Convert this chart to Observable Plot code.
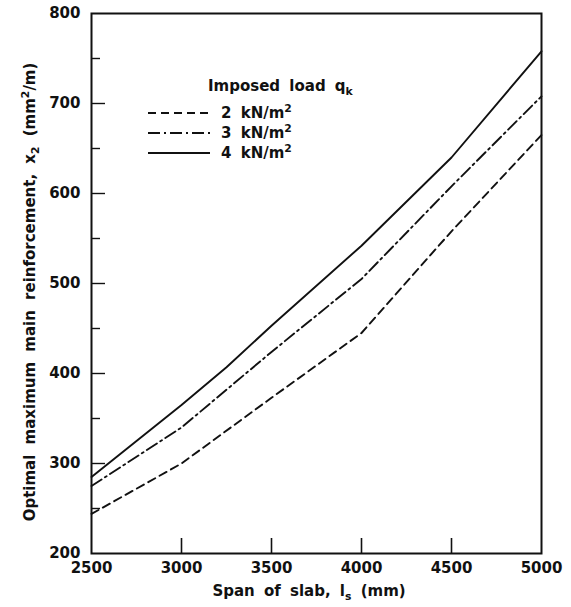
<!DOCTYPE html>
<html><head><meta charset="utf-8">
<script src="https://cdn.jsdelivr.net/npm/d3@7"></script>
<script src="https://cdn.jsdelivr.net/npm/@observablehq/plot@0.6"></script>
<style>
body{margin:0;background:#fff}
#chart svg{font-family:"DejaVu Sans",sans-serif}
</style>
</head><body><div id="chart"></div>
<script>
// Data
const span2 = [2500, 3000, 3500, 4000, 4500, 5000];
const reinf2 = [244, 300, 373, 445, 558, 665];
const span3 = [2500, 3000, 3500, 4000, 4500, 5000];
const reinf3 = [275, 340, 424, 505, 608, 708];
const span4 = [2500, 3000, 3250, 3500, 4000, 4500, 5000];
const reinf4 = [285, 365, 407, 453, 542, 640, 758];
const xTicks = [2500, 3000, 3500, 4000, 4500, 5000];
const yTicks = [200, 300, 400, 500, 600, 700, 800];
const yMinor = [250, 350, 450, 550, 650, 750];
const loadLabels = ["2", "3", "4"];

const dashes = {"2": "8,5", "3": "12,4,2,4", "4": null};
const series = [
  {load: "2", xs: span2, ys: reinf2},
  {load: "3", xs: span3, ys: reinf3},
  {load: "4", xs: span4, ys: reinf4}
];

const fs = 15;
const chart = Plot.plot({
  width: 571, height: 607,
  marginLeft: 91, marginRight: 30, marginTop: 13, marginBottom: 54,
  style: {fontFamily: "DejaVu Sans", fontSize: fs + "px", color: "#111", background: "#fff"},
  x: {domain: [2500, 5000]},
  y: {domain: [200, 800]},
  marks: [
    Plot.axisX(xTicks, {tickSize: 0, tickPadding: 9, label: null, fontSize: fs, fontWeight: "bold", tickFormat: d3.format("d")}),
    Plot.axisX(xTicks.slice(1, -1), {tickSize: -15, text: null, label: null, strokeWidth: 1.6}),
    Plot.axisY(yTicks, {tickSize: 0, tickPadding: 11, label: null, fontSize: fs, fontWeight: "bold", tickFormat: d3.format("d")}),
    Plot.axisY(yTicks.slice(1, -1), {tickSize: -14, text: null, label: null, strokeWidth: 1.4}),
    Plot.axisY(yMinor, {tickSize: -9, text: null, label: null, strokeWidth: 1.4}),
    Plot.frame({stroke: "#111", strokeWidth: 2}),
    ...series.map(s => Plot.line(s.xs.map((x, i) => ({x, y: s.ys[i]})), {
      x: "x", y: "y", stroke: "#111", strokeWidth: 1.9,
      strokeDasharray: dashes[s.load]
    }))
  ]
});
document.getElementById("chart").append(chart);

// Axis titles and legend (with sub/superscripts)
const svg = d3.select(chart);
function rich(g, parts) {
  parts.forEach(p => {
    const t = g.append("tspan").text(p.t);
    if (p.sub) t.attr("font-size", fs * 0.72).attr("dy", 4);
    if (p.sup) t.attr("font-size", fs * 0.72).attr("dy", -6);
    if (p.back) t.attr("dy", p.back);
  });
}
const xl = svg.append("text").attr("x", 309).attr("y", 596).attr("text-anchor", "middle")
  .attr("font-size", fs).attr("font-weight", "bold").attr("fill", "#111").attr("word-spacing", 4);
rich(xl, [{t: "Span of slab, l"}, {t: "s", sub: true}, {t: " (mm)", back: -4}]);

const yl = svg.append("text").attr("transform", "translate(35,292) rotate(-90)").attr("text-anchor", "middle")
  .attr("font-size", fs).attr("font-weight", "bold").attr("fill", "#111").attr("word-spacing", 5);
rich(yl, [{t: "Optimal maximum main reinforcement, x"}, {t: "2", sub: true}, {t: " (mm", back: -4}, {t: "2", sup: true}, {t: "/m)", back: 6}]);

const lg = svg.append("g").attr("fill", "#111").attr("font-size", fs).attr("font-weight", "bold")
  .attr("text-anchor", "start");
const lt = lg.append("text").attr("x", 208).attr("y", 91).attr("text-anchor", "start").attr("word-spacing", 4);
rich(lt, [{t: "Imposed load q"}, {t: "k", sub: true}]);
loadLabels.forEach((l, i) => {
  const y = 113 + i * 20;
  lg.append("line").attr("x1", 148).attr("x2", 210).attr("y1", y).attr("y2", y)
    .attr("stroke", "#111").attr("stroke-width", 1.9).attr("stroke-dasharray", dashes[l]);
  const t = lg.append("text").attr("x", 221).attr("y", y + 5).attr("text-anchor", "start").attr("word-spacing", 4);
  rich(t, [{t: l + " kN/m"}, {t: "2", sup: true}]);
});
</script>
</body></html>
